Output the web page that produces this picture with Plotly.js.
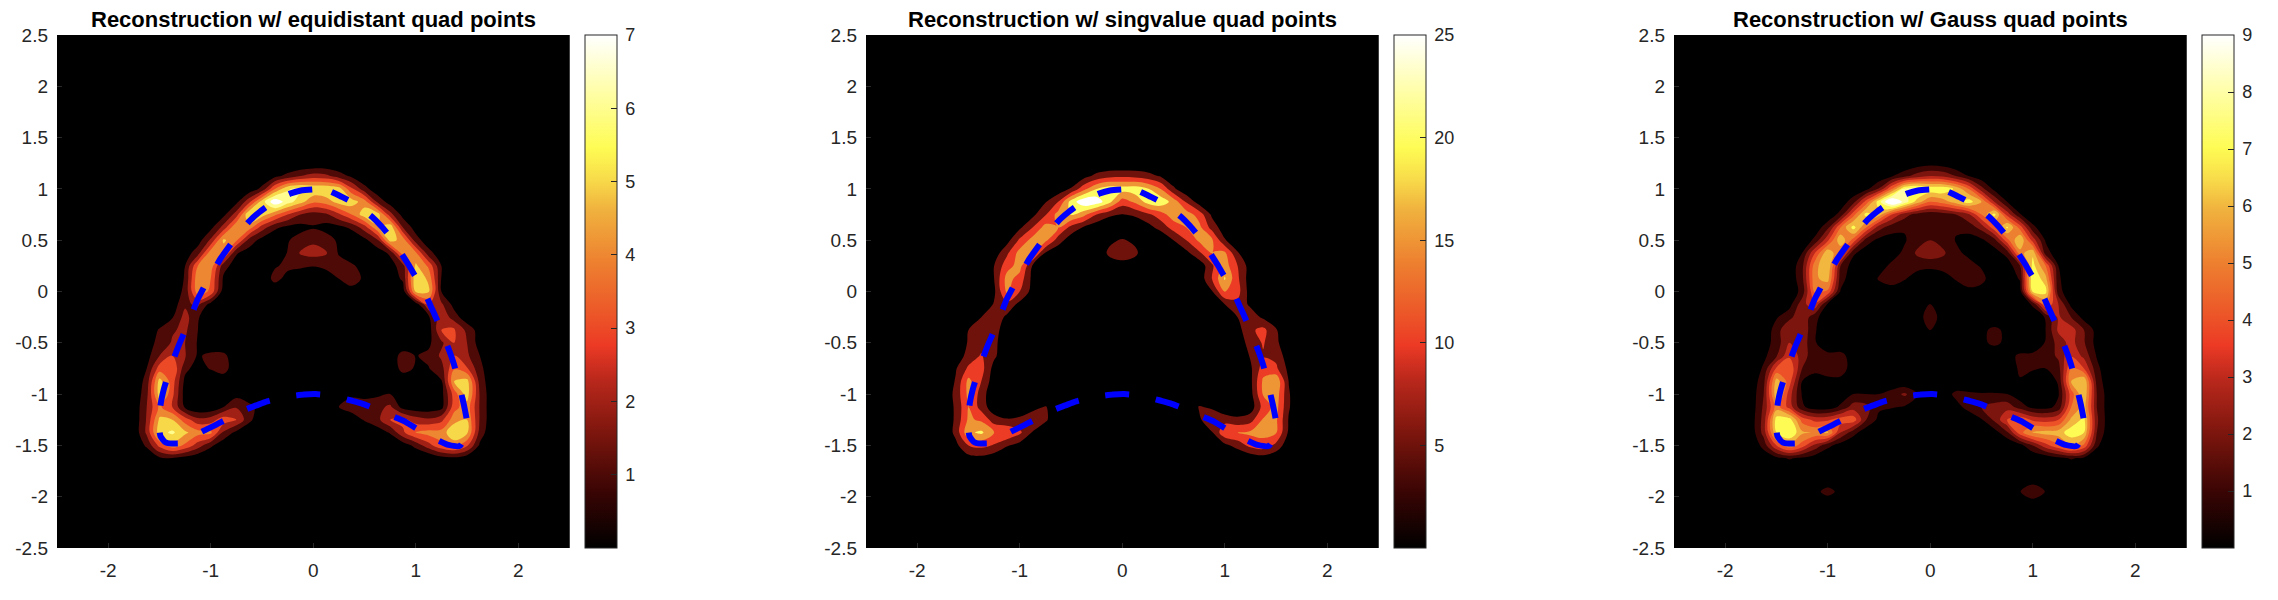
<!DOCTYPE html>
<html>
<head>
<meta charset="utf-8">
<script src="https://cdn.plot.ly/plotly-3.0.1.min.js"></script>
<style>html,body{margin:0;padding:0;background:#fff}#chart{width:2278px;height:600px}</style>
</head>
<body>
<div id="chart"></div>
<script>
const titles = ['Reconstruction w/ equidistant quad points','Reconstruction w/ singvalue quad points','Reconstruction w/ Gauss quad points'];
const gridX = [-1.875,-1.75,-1.625,-1.5,-1.375,-1.25,-1.125,-1,-.875,-.75,-.625,-.5,-.375,-.25,-.125,0,.125,.25,.375,.5,.625,.75,.875,1,1.125,1.25,1.375,1.5,1.625,1.75,1.875];
const gridY = [1.25,1.125,1,.875,.75,.625,.5,.375,.25,.125,0,-.125,-.25,-.375,-.5,-.625,-.75,-.875,-1,-1.125,-1.25,-1.375,-1.5,-1.625,-1.75];
const gridY3 = [1.375,1.25,1.125,1,.875,.75,.625,.5,.375,.25,.125,0,-.125,-.25,-.375,-.5,-.625,-.75,-.875,-1,-1.125,-1.25,-1.375,-1.5,-1.625,-1.75,-1.85,-1.95,-2.05];
const zTop = [7,25,9];
const levelStep = [1,5,1];
const colorbarTicks = [[1,2,3,4,5,6,7],[5,10,15,20,25],[1,2,3,4,5,6,7,8,9]];
const hotScale = [[0,'#000000'],[.11,'#3a0504'],[.22,'#7a150d'],[.33,'#bb281c'],[.395,'#ec3a25'],[.45,'#ec5428'],[.55,'#ed7d2f'],[.66,'#f0b23e'],[.72,'#f8dc4a'],[.78,'#fefc54'],[.89,'#fffea8'],[1,'#ffffff']];

// Each row of a field: runs of [first column index, values...]; everything else is zero.
const field1 = [
[],
[[11,.1,.7,1.3,2,2.5,2.3,1.5,.8,.1]],
[[10,.3,1.3,4,5.9,6.3,5.9,5.9,5.5,3.2,1.4,.3]],
[[9,.7,2.7,5.5,7.8,6.5,5.4,4.2,4.5,5.4,5.5,4.5,1.8,.5]],
[[8,.7,2.5,6,5.5,4.2,3,2,1.5,1.8,2.8,4,5.6,5.6,2.4,.6]],
[[7,.7,2.4,5,4.5,2.5,1.2,.7,.6,.9,.6,.7,1.2,2.5,4.8,5.8,2,.5]],
[[6,.5,2.2,5.2,4.2,1.6,.6,.2,.9,1.5,1.8,1.5,.8,.2,.7,1.8,5.4,4.6,1.5,.3]],
[[5,.4,1.6,4.6,4.4,1.1,.5],[12,.3,1.05,2.1,2.4,2.1,.9,.2],[20,.4,1.2,4.6,4.2,1.4,.3]],
[[4,.2,1,4,4.6,1.4,.5],[11,.3,.9,1.2,1.2,1.05,1.3,1.4,1.2,.5],[21,.5,1.6,5.2,3.8,1,.2]],
[[4,.2,1.1,4.8,4,.8],[11,.3,1.3,.7,.2,.1,.3,1,1.5,.8],[21,.3,1.2,5.8,4.8,.95,.1]],
[[4,.2,1.3,4.6,3.8,.4],[12,.3],[18,.6],[22,.4,5.2,5.2,1,.2]],
[[4,.4,1.8,2.2,.6],[23,.4,3,2.2,.6]],
[[3,.3,.9,2.4,1.1,.2],[24,.8,2.8,1.5,.3]],
[[2,.3,1.1,1.9,2.2,1,.1],[24,.5,3,3.2,1.7,.5]],
[[2,.4,1.4,2.1,2,.9,.1],[24,.8,1.8,3,2,.5]],
[[2,.6,2,3,2.1,.85,1.3,1.3,.2],[21,.2,1.5,.95,1.2,2.2,3,2.2,1,.1]],
[[2,1,3.5,4,1.3,.5,1.1,1.5,.2],[22,1.5,.85,.95,1.6,3.9,3.1,1.3,.2]],
[[1,.1,1.4,5.4,3.5,.7],[8,.3],[25,.9,5,5.4,1.6,.2]],
[[1,.1,1.7,5.5,3.3,.5],[8,.4,.6],[17,.9,.8,.7,.8,1,.3],[25,.6,3.5,5.5,1.9,.2]],
[[1,.2,2,4.2,3,.8,.1,.2,1,1.9,1.4,.4],[17,1,1.5,1.5,1.7,2.2,.6,.3,.3,.6,3.6,4.6,1.9,.2]],
[[1,.2,2.1,5.2,5,3.5,2.3,2.5,3.6,3,1.3,.1],[18,.4,1.1,1.7,3,3.3,2.5,2.2,2.7,4.6,5,1.9,.2]],
[[1,.2,2.2,5.6,6.2,5.2,4.4,4.3,1.8,.7],[20,.4,1.1,2.8,4.1,4.4,4.4,5.9,5.2,1.6,.1]],
[[2,1.2,3.3,4.6,3.8,2.5,1.2,.3],[22,.4,1.3,2.6,3.8,4.4,3.2,.8]],
[[3,.8,.9,.6,.2],[25,.6,.7,.3]],
[]
];
const field2 = [
[],
[[12,3,6.5,8.5,9,8.5,7,4.5,1]],
[[10,1.5,5.5,13.5,20,23,22.5,23,20.5,15,6,1]],
[[8,.5,4.5,10,22,29,28,21.5,12.5,16,22,23.5,18,9.5,2.5]],
[[8,3.5,9.5,17,20.5,16.5,10,6,4.8,6,9,12.5,18,17.5,13,4]],
[[7,4,10,17,15,8.5,4.5,1.5],[17,3,7,12,15,16.5,8,2]],
[[6,3,11,17,16.5,7.5,2],[14,4,5.5,4],[19,5,10,16,16,5.5,1]],
[[5,2,9,17,17,4.5,1],[13,1.5,6,7,6,1.5],[20,3.5,9,15,16,5.5,1]],
[[5,5,13,17,4.5,.5],[14,2.5,3.5,2.5],[21,1.5,9,17.5,10,2.5]],
[[4,.5,5,17,13,3.5],[21,1.5,10,20.5,11,2]],
[[5,4,16,10,3],[22,4.5,15.5,12,2.5]],
[[4,.5,5.5,8.5,3.5],[22,.5,5,8.5,4]],
[[3,1,5,8,4],[24,5,8,4,1]],
[[3,5,7.5,7.5,1.5],[24,3,9,11.5,5.5,1]],
[[2,1,5.5,8,6.5,1],[24,2,7,10.5,6,1.5]],
[[2,1.5,7,10.5,6,1],[24,.5,5.5,9.5,8.5,2]],
[[2,4.5,11,12,3],[25,4,12.5,11,3.5]],
[[2,5.5,16.5,10,2],[25,3.5,16,19.5,4.8]],
[[1,.5,6.5,16.5,7.5,1],[25,3,15.5,18,5.5]],
[[2,6,15,8,1.5],[8,2.5,5.5,1.5],[21,5.5,4,.5],[25,2,12,17,5.5]],
[[2,6,16,14,7.5,5.5,6.5,10,6,.5],[21,4,9.5,8,6.5,8,15.5,16,4.5]],
[[2,6.5,19,21,15,15,11,4.5,.5],[22,4.5,14,15,16,16.5,15.5,4]],
[[2,3.5,10,11.5,9.5,5.5,3],[23,3.5,7,11.5,13,8.5,1.5]],
[[3,3,3.5,2],[25,1.5,2.5,1]],
[]
];
const field3 = [
[],
[[14,.4,.6,.4]],
[[11,.2,.9,1.7,2.5,3,2.8,2,1,.3]],
[[9,.1,.7,2.1,5,8,8.5,7.8,7.8,6.8,5,2.4,.7]],
[[8,.3,1.6,4.4,7.6,10.5,8.6,6.5,5,5.5,6.5,7.5,6,3,1,.1]],
[[7,.2,1.4,4.6,7.4,6.5,4,2.4,1.6,1.3,1.5,2,2.8,5,7.4,3.6,1.1,.1]],
[[6,.3,1.7,5,7.4,5,2.4,1.4,1.1,1.2,1.4,1.2,1.1,1.4,2.4,4.6,7.2,4.6,1.3,.2]],
[[5,.1,1.3,3.8,6.8,4.6,1.5,.7,.6,.9,1.6,2,1.6,.95,.6,.8,1.6,4.6,7,3.6,.9]],
[[5,1,4,6.8,5,1.2,.4,.2,.6,1.2,2.2,2.6,2.2,1.2,.8,0,.5,1.4,5.6,6.8,1.5,.3]],
[[4,.2,1.7,5.6,7,2,.4,0,.6,1.2,1.3,1.4,1.3,1.4,1.4,1.3,.9,.4,.3,2,7.4,5,1]],
[[4,.2,1.7,5.8,6.4,1.5,.2,.3,1.1,1.5,1.1,.4,.1,.5,1.1,1.6,1.3,.4,.3,1.1,8,6.4,1.2,.1]],
[[4,.1,1.4,5.2,4.8,.9,.2,0,.5,.5,.1],[17,.3,.7,.6],[22,.5,7.2,7.4,1.4,.2]],
[[4,.6,2.6,3.8,.8,.1],[15,1.05],[23,1.2,5,3,.7]],
[[2,.1,.9,1.7,2.8,1.3,.3],[14,.5,1.6,.5],[20,.2],[23,.1,1.1,3.2,2,.6]],
[[2,.2,1.5,3,2.8,1.1,.2],[15,1.05],[19,.75,1.25,.75],[24,1,3.2,3.5,2,.6]],
[[2,.4,1.5,3,2.6,1.1,.2],[19,.75,1.25,.75],[24,1.1,2.4,3.4,2.1,.6]],
[[2,.7,1.9,3.8,2.6,1.2,1.3,1.4,.4],[20,.2,.6,1.2,1.3,1.4,2.2,3.9,2.7,.9]],
[[2,1.2,4.2,5,2,1.3,1.5,1.5,.5],[21,.2,1.2,1.1,1,1.6,5,4,1.3,.1]],
[[1,.2,1.7,6.5,4.5,1,.5,.7,.7],[21,.4,.9,.5,.4,1.1,6,7,1.6,.2]],
[[1,.3,2,6.8,3.5,.9,.1,0,.3,1,1,1,1.5,2.2,1.1,.1,.3,1.3,1.2,1.1,1.1,1,.4,.1,.1,.9,4.5,7,2,.3]],
[[1,.3,2.2,5.5,3.6,1.2,.4,.4,1.2,2.5,2.3,1.2,1.1,.9,.3],[17,.6,1.4,2,2.4,2.6,1.5,.7,.6,1.3,5,6.5,2,.3]],
[[1,.4,2.4,7.5,7.5,4.6,3.7,3.8,4.6,4.6,2,.7,.1],[18,.2,.9,2.2,4,4.8,3.8,3.5,4,6.2,7.3,2.2,.3]],
[[1,.3,2.4,7,8,6.2,5.9,6.2,3,1.4,.3],[20,.5,1.8,4.6,6.2,6.4,6.5,7.6,7,2,.2]],
[[2,1.4,4,5.8,4.5,2.7,1.3,.5],[22,.6,2,3.6,4.8,6,4.8,1.2,.1]],
[[2,.2,.7,1.1,.8,.4],[24,.2,.7,1.1,.8,.2]],
[],
[[7,.25],[23,.6]],
[[6,.6,1.5,.6],[22,.95,1.9,.95]],
[[7,.25],[23,.6]]
];

const curveX = [-.01,-.12,-.22,-.33,-.435,-.53,-.62,-.69,-.76,-.835,-.905,-.96,-1.02,-1.075,-1.13,-1.17,-1.21,-1.26,-1.31,-1.35,-1.386,-1.425,-1.46,-1.485,-1.5,-1.505,-1.49,-1.44,-1.295,-1.185,-1.075,-.97,-.873,-.765,-.66,-.555,-.45,-.33,-.21,-.09,.02,.135,.25,.36,.47,.585,.7,.8,.9,1.005,1.107,1.215,1.32,1.43,1.497,1.5,1.48,1.455,1.425,1.4,1.37,1.33,1.285,1.245,1.2,1.15,1.1,1.05,.994,.93,.864,.805,.744,.66,.57,.48,.39,.285,.18];
const curveY = [.995,.985,.956,.905,.84,.77,.69,.605,.52,.42,.32,.225,.13,.025,-.08,-.185,-.29,-.405,-.52,-.625,-.73,-.845,-.96,-1.075,-1.19,-1.3,-1.41,-1.47,-1.48,-1.42,-1.36,-1.31,-1.26,-1.205,-1.15,-1.11,-1.07,-1.04,-1.02,-1.005,-1,-1.01,-1.03,-1.06,-1.09,-1.135,-1.18,-1.225,-1.27,-1.335,-1.4,-1.45,-1.495,-1.505,-1.38,-1.27,-1.155,-1.04,-.92,-.81,-.7,-.585,-.47,-.365,-.26,-.15,-.04,.055,.15,.26,.365,.455,.54,.64,.73,.8,.865,.92,.97];

function expandField(rows){
  return rows.map(function(runs){
    const row = gridX.map(function(){return 0;});
    runs.forEach(function(run){ run.slice(1).forEach(function(v,i){ row[run[0]+i]=v; }); });
    return row;
  });
}

const W=2278, H=600;
const plotLeft=[57,866,1674], plotWidth=512.5, plotTop=35, plotBottom=548;
const barLeft=[585.3,1394,2202], barWidth=32;
const fields=[field1,field2,field3], ys=[gridY,gridY,gridY3];
const traces=[], layout={
  width:W,height:H,margin:{l:0,r:0,t:0,b:0},paper_bgcolor:'#fff',plot_bgcolor:'#000',showlegend:false,
  font:{family:'"Liberation Sans",Arial,sans-serif',color:'#262626'},annotations:[]
};
titles.forEach(function(t,i){
  const s=i===0?'':String(i+1);
  const axis={range:[-2.5,2.5],showgrid:false,zeroline:false,showline:false,ticks:'inside',ticklen:5,tickwidth:1,tickcolor:'#2a2a2a',tickfont:{size:19,color:'#262626'},fixedrange:true};
  layout['xaxis'+s]=Object.assign({},axis,{domain:[plotLeft[i]/W,(plotLeft[i]+plotWidth)/W],anchor:'y'+s,tickmode:'array',tickvals:[-2,-1,0,1,2],ticktext:['-2','-1','0','1','2'],ticklabelstandoff:9});
  layout['yaxis'+s]=Object.assign({},axis,{domain:[1-plotBottom/H,1-plotTop/H],anchor:'x'+s,tickmode:'array',tickvals:[-2.5,-2,-1.5,-1,-.5,0,.5,1,1.5,2,2.5],ticktext:['-2.5','-2','-1.5','-1','-0.5','0','0.5','1','1.5','2','2.5'],ticklabelstandoff:8});
  traces.push({type:'heatmap',x:[-2.5,2.5],y:[-2.5,2.5],z:[[0,0],[0,0]],zmin:0,zmax:zTop[i],zauto:false,colorscale:hotScale,xaxis:'x'+s,yaxis:'y'+s,hoverinfo:'skip',showscale:true,
    colorbar:{x:barLeft[i]/W,xanchor:'left',xref:'paper',y:1-plotBottom/H,yanchor:'bottom',yref:'paper',len:(plotBottom-plotTop)/H,lenmode:'fraction',thickness:barWidth,thicknessmode:'pixels',xpad:0,ypad:0,outlinewidth:1,outlinecolor:'#262626',ticks:'inside',ticklen:6,tickwidth:1,tickcolor:'#262626',tickmode:'array',tickvals:colorbarTicks[i],ticktext:colorbarTicks[i].map(function(v){return '\u2009'+v;}),tickfont:{size:18,color:'#262626'}}});
  traces.push({type:'contour',x:gridX,y:ys[i],z:expandField(fields[i]),xaxis:'x'+s,yaxis:'y'+s,showscale:false,autocontour:false,
    zauto:false,zmin:levelStep[i]/2,zmax:zTop[i]+levelStep[i]/2,colorscale:hotScale,
    contours:{coloring:'fill',start:levelStep[i],end:zTop[i],size:levelStep[i],showlines:false},line:{width:0,smoothing:1},hoverinfo:'skip'});
  traces.push({type:'scatter',mode:'lines',x:curveX,y:curveY,xaxis:'x'+s,yaxis:'y'+s,line:{color:'#0000ff',width:6,dash:'24px,27px',shape:'spline',smoothing:.6},hoverinfo:'skip'});
  layout.annotations.push({text:'<b>'+t+'</b>',xref:'paper',yref:'paper',x:(plotLeft[i]+plotWidth/2)/W,y:1-plotTop/H,xanchor:'center',yanchor:'bottom',yshift:1,showarrow:false,font:{size:22,color:'#000'}});
});
Plotly.newPlot('chart',traces,layout,{displayModeBar:false,staticPlot:true});
</script>
</body>
</html>
